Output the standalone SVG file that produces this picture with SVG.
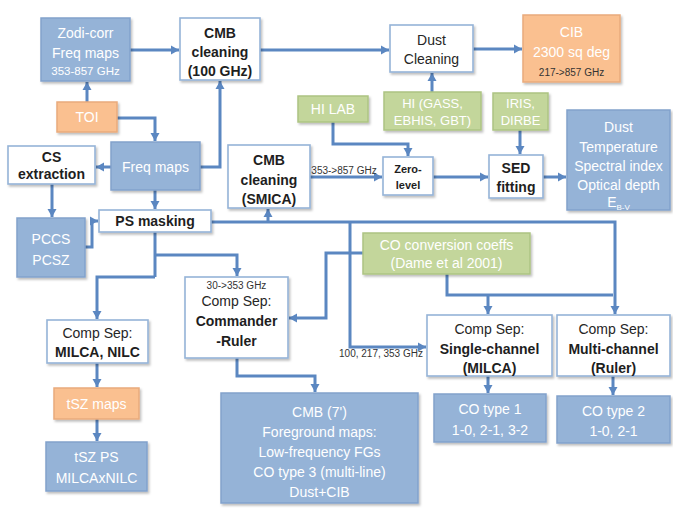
<svg xmlns="http://www.w3.org/2000/svg" width="673" height="512" viewBox="0 0 673 512">
<defs>
<marker id="ah" markerUnits="userSpaceOnUse" markerWidth="10" markerHeight="10" refX="8" refY="5" orient="auto">
<path d="M0,0.5 L8,5 L0,9.5 Z" fill="#5b87c1"/>
</marker>
<filter id="sh" x="-10%" y="-10%" width="130%" height="130%">
<feDropShadow dx="1.5" dy="2" stdDeviation="1.2" flood-color="#000" flood-opacity="0.25"/>
</filter>
</defs>
<style>
text{font-family:"Liberation Sans",Arial,sans-serif;text-anchor:middle;}
.t{font-size:14px;fill:#262626;}
.b{font-size:14px;fill:#1e1e1e;font-weight:bold;}
.w{font-size:14px;fill:#ffffff;}
.sw{font-size:11.5px;fill:#ffffff;}
.sd{font-size:10px;fill:#333333;}
.blue{fill:#95b3d7;stroke:#82a2cc;stroke-width:1.5;filter:url(#sh);}
.white{fill:#ffffff;stroke:#95b3d7;stroke-width:1.6;filter:url(#sh);}
.orange{fill:#fac090;stroke:#e9ab7c;stroke-width:1.5;filter:url(#sh);}
.green{fill:#c3d69b;stroke:#adc483;stroke-width:1.5;filter:url(#sh);}
.c path{fill:none;stroke:#5b87c1;stroke-width:3;}
.c .a{marker-end:url(#ah);}
</style>
<rect width="673" height="512" fill="#ffffff"/>

<g class="c" id="connectors">
<path class="a" d="M130,50 H179"/>
<path class="a" d="M87,102 V82"/>
<path class="a" d="M117,118 H155 V141"/>
<path class="a" d="M200,167 H220 V81"/>
<path class="a" d="M111,167 H96"/>
<path class="a" d="M155,190 V209"/>
<path class="a" d="M52,184 V217"/>
<path class="a" d="M85,247 H92 V221 H98"/>
<path class="a" d="M268,222 V209"/>
<path class="a" d="M211,222 H615 V314"/>
<path class="a" d="M350,222 V347 H426"/>
<path d="M155,232 V277"/>
<path class="a" d="M155,255 H237 V276"/>
<path class="a" d="M155,277 H97 V319"/>
<path class="a" d="M237,358 V376 H315 V392"/>
<path class="a" d="M363,253 H326 V318 H289"/>
<path d="M447,274 V295 H613"/>
<path class="a" d="M488,295 V314"/>
<path class="a" d="M488,376 V393"/>
<path class="a" d="M613,376 V395"/>
<path class="a" d="M97,363 V387"/>
<path class="a" d="M97,419 V441"/>
<path class="a" d="M260,50 H389"/>
<path class="a" d="M473,49 H522"/>
<path class="a" d="M432,92 V73"/>
<path class="a" d="M333,122 V144 H408 V156"/>
<path class="a" d="M310,177 H382"/>
<path class="a" d="M433,177 H488"/>
<path class="a" d="M520,130 V154"/>
<path class="a" d="M543,177 H566"/>
</g>

<g id="zodi">
<rect class="blue" x="41" y="18" width="89" height="63"/>
<text class="w" x="85.5" y="38">Zodi-corr</text>
<text class="w" x="85.5" y="58">Freq maps</text>
<text class="sw" x="85.5" y="75">353-857 GHz</text>
</g>
<g id="cmb100">
<rect class="white" x="180" y="18" width="80" height="62"/>
<text class="b" x="220" y="38">CMB</text>
<text class="b" x="220" y="57">cleaning</text>
<text class="b" x="220" y="76">(100 GHz)</text>
</g>
<g id="toi">
<rect class="orange" x="57" y="102" width="60" height="30"/>
<text class="w" x="87" y="122">TOI</text>
</g>
<g id="freqmaps">
<rect class="blue" x="111" y="142" width="89" height="48"/>
<text class="w" x="155.5" y="172">Freq maps</text>
</g>
<g id="cs">
<rect class="white" x="8" y="146" width="87" height="38"/>
<text class="b" x="51.5" y="162">CS</text>
<text class="b" x="51.5" y="179">extraction</text>
</g>
<g id="pccs">
<rect class="blue" x="17" y="218" width="68" height="59"/>
<text class="w" x="51" y="244">PCCS</text>
<text class="w" x="51" y="265">PCSZ</text>
</g>
<g id="psmasking">
<rect class="white" x="99" y="210" width="112" height="22"/>
<text class="b" x="155" y="226">PS masking</text>
</g>
<g id="smica">
<rect class="white" x="228" y="145" width="82" height="63"/>
<text class="b" x="269" y="165">CMB</text>
<text class="b" x="269" y="185">cleaning</text>
<text class="b" x="269" y="204">(SMICA)</text>
</g>
<text class="sd" x="344" y="174">353-&gt;857 GHz</text>
<g id="hilab">
<rect class="green" x="298" y="96" width="70" height="26"/>
<text class="w" x="333" y="114">HI LAB</text>
</g>
<g id="zerolevel">
<rect class="white" x="383" y="157" width="50" height="38"/>
<text class="b" x="408" y="173" style="font-size:11px">Zero-</text>
<text class="b" x="408" y="189" style="font-size:11px">level</text>
</g>
<g id="dustcleaning">
<rect class="white" x="390" y="25" width="83" height="47"/>
<text class="t" x="431.5" y="45">Dust</text>
<text class="t" x="431.5" y="64">Cleaning</text>
</g>
<g id="hi">
<rect class="green" x="384" y="92" width="97" height="38"/>
<text class="w" x="432.5" y="108" style="font-size:13px">HI (GASS,</text>
<text class="w" x="432.5" y="125" style="font-size:13px">EBHIS,  GBT)</text>
</g>
<g id="cib">
<rect class="orange" x="523" y="15" width="97" height="67"/>
<text class="w" x="571.5" y="37">CIB</text>
<text class="w" x="571.5" y="57">2300 sq deg</text>
<text class="sd" x="571.5" y="76">217-&gt;857 GHz</text>
</g>
<g id="iris">
<rect class="green" x="493" y="93" width="55" height="37"/>
<text class="w" x="520.5" y="108" style="font-size:13px">IRIS,</text>
<text class="w" x="520.5" y="125" style="font-size:13px">DIRBE</text>
</g>
<g id="sed">
<rect class="white" x="489" y="155" width="54" height="43"/>
<text class="b" x="516" y="173">SED</text>
<text class="b" x="516" y="192">fitting</text>
</g>
<g id="dust">
<rect class="blue" x="567" y="110" width="103" height="100"/>
<text class="w" x="618.5" y="132">Dust</text>
<text class="w" x="618.5" y="152">Temperature</text>
<text class="w" x="618.5" y="171">Spectral index</text>
<text class="w" x="618.5" y="190">Optical depth</text>
<text class="w" x="618.5" y="207">E<tspan style="font-size:8px" dy="3">B-V</tspan></text>
</g>
<g id="coconv">
<rect class="green" x="363" y="233" width="167" height="41"/>
<text class="w" x="446.5" y="250">CO conversion coeffs</text>
<text class="w" x="446.5" y="268">(Dame et al 2001)</text>
</g>
<g id="commander">
<rect class="white" x="185" y="277" width="103" height="81"/>
<text class="sd" x="236.5" y="289">30-&gt;353 GHz</text>
<text class="t" x="236.5" y="306">Comp Sep:</text>
<text class="b" x="236.5" y="326">Commander</text>
<text class="b" x="236.5" y="346">-Ruler</text>
</g>
<text class="sd" x="381" y="357">100, 217, 353 GHz</text>
<g id="single">
<rect class="white" x="427" y="315" width="125" height="61"/>
<text class="t" x="489.5" y="334">Comp Sep:</text>
<text class="b" x="489.5" y="354">Single-channel</text>
<text class="b" x="489.5" y="373">(MILCA)</text>
</g>
<g id="multi">
<rect class="white" x="557" y="315" width="113" height="61"/>
<text class="t" x="613.5" y="334">Comp Sep:</text>
<text class="b" x="613.5" y="354">Multi-channel</text>
<text class="b" x="613.5" y="373">(Ruler)</text>
</g>
<g id="cotype1">
<rect class="blue" x="434" y="394" width="112" height="48"/>
<text class="w" x="490" y="414">CO type 1</text>
<text class="w" x="490" y="435">1-0, 2-1, 3-2</text>
</g>
<g id="cotype2">
<rect class="blue" x="557" y="396" width="113" height="47"/>
<text class="w" x="613.5" y="416">CO type 2</text>
<text class="w" x="613.5" y="436">1-0, 2-1</text>
</g>
<g id="cmb7">
<rect class="blue" x="221" y="393" width="197" height="110"/>
<text class="w" x="319.5" y="417">CMB (7')</text>
<text class="w" x="319.5" y="437">Foreground maps:</text>
<text class="w" x="319.5" y="457">Low-frequency FGs</text>
<text class="w" x="319.5" y="477">CO type 3 (multi-line)</text>
<text class="w" x="319.5" y="497">Dust+CIB</text>
</g>
<g id="milcanilc">
<rect class="white" x="47" y="320" width="101" height="43"/>
<text class="t" x="97.5" y="338">Comp Sep:</text>
<text class="b" x="97.5" y="357">MILCA, NILC</text>
</g>
<g id="tszmaps">
<rect class="orange" x="54" y="388" width="85" height="31"/>
<text class="w" x="96.5" y="409">tSZ maps</text>
</g>
<g id="tszps">
<rect class="blue" x="46" y="442" width="101" height="49"/>
<text class="w" x="96.5" y="462">tSZ PS</text>
<text class="w" x="96.5" y="483">MILCAxNILC</text>
</g>
</svg>
